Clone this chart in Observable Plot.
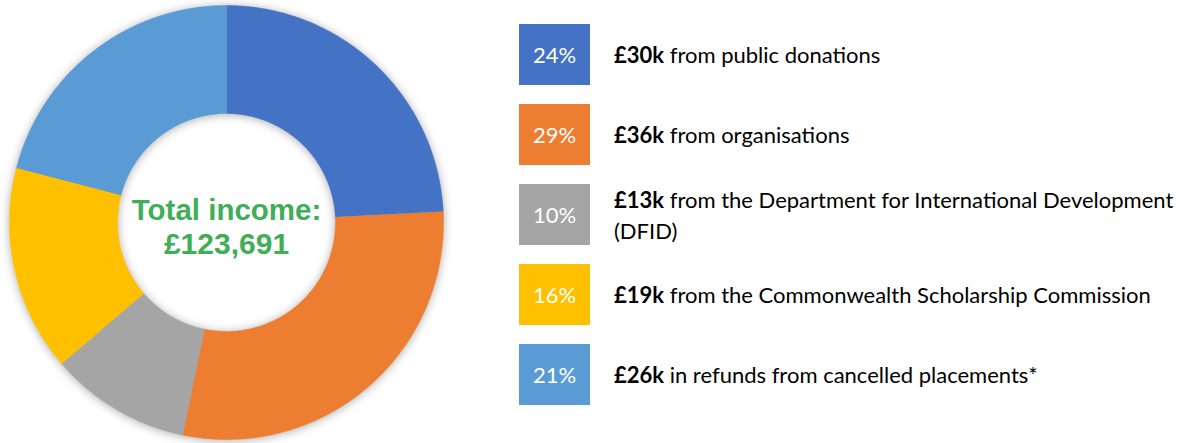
<!DOCTYPE html>
<html>
<head>
<meta charset="utf-8">
<script src="https://cdn.jsdelivr.net/npm/d3@7"></script>
<script src="https://cdn.jsdelivr.net/npm/@observablehq/plot@0.6"></script>
<style>
  html, body { margin: 0; padding: 0; background: #fff; }
  #wrap { position: relative; width: 1186px; height: 443px; overflow: hidden; }
  #chart { position: absolute; left: 0; top: 0; }
  #legend { position: absolute; left: 519px; top: 24px; }
  .row { display: flex; align-items: center; height: 61px; margin-bottom: 19px; }
  .box { width: 71px; height: 61px; flex: none; display: flex; align-items: center; justify-content: center;
         color: #fff; font-family: Lato, "Open Sans", sans-serif; font-size: 22px; }
  .lab { margin-left: 24px; font-family: Lato, "Open Sans", sans-serif; font-size: 22px;
         color: #000; white-space: nowrap; }
  .lab .ln { height: 31px; line-height: 31px; }
  .lab b { font-weight: 700; }
</style>
</head>
<body>
<div id="wrap">
  <div id="chart"></div>
  <div id="legend"></div>
</div>
<script>
// ---- data ----
const categories = ["public donations", "organisations", "DFID", "Commonwealth Scholarship Commission", "refunds"];
const amounts = [30, 36, 13, 19, 26];            // £k
const percents = [24, 29, 10, 16, 21];           // %
const amountLabels = ["£30k", "£36k", "£13k", "£19k", "£26k"];
const descriptions = [
  ["from public donations"],
  ["from organisations"],
  ["from the Department for International Development", "(DFID)"],
  ["from the Commonwealth Scholarship Commission"],
  ["in refunds from cancelled placements*"]
];
const colors = ["#4472C4", "#ED7D31", "#A5A5A5", "#FFC000", "#5B9BD5"];
const centerLines = ["Total income:", "£123,691"];

// ---- donut geometry (unit radius) ----
const outerR = 1, innerR = 0.502;
const pie = d3.pie().sort(null).value(d => d.value)(categories.map((c, i) => ({name: c, value: amounts[i]})));
const pts = [];
for (const s of pie) {
  const a0 = s.startAngle, a1 = s.endAngle;
  const n = Math.max(2, Math.ceil((a1 - a0) / (Math.PI / 360)));
  for (let k = 0; k <= n; k++) {
    const a = a0 + (a1 - a0) * k / n;
    pts.push({name: s.data.name, x: outerR * Math.sin(a), y: outerR * Math.cos(a)});
  }
  for (let k = n; k >= 0; k--) {
    const a = a0 + (a1 - a0) * k / n;
    pts.push({name: s.data.name, x: innerR * Math.sin(a), y: innerR * Math.cos(a)});
  }
}

const W = 452, H = 443, cx = 226, cy = 222, Rpx = 217;
const plot = Plot.plot({
  width: W, height: H,
  margin: 0,
  x: {domain: [-cx / Rpx, (W - cx) / Rpx], axis: null},
  y: {domain: [-(H - cy) / Rpx, cy / Rpx], axis: null},
  color: {domain: categories, range: colors},
  style: {overflow: "visible", background: "transparent"},
  marks: [
    Plot.line(pts, {x: "x", y: "y", z: "name", fill: "name", stroke: "name", strokeWidth: 0.5}),
    Plot.text([centerLines[0]], {x: () => 0, y: () => 0, text: d => d, dy: -12, fill: "#3FAE57",
      fontSize: 29.5, fontWeight: "bold", fontFamily: "Liberation Sans, Arial, sans-serif"}),
    Plot.text([centerLines[1]], {x: () => 0, y: () => 0, text: d => d, dy: 22, fill: "#3FAE57",
      fontSize: 30, fontWeight: "bold", fontFamily: "Liberation Sans, Arial, sans-serif"})
  ]
});
const lineG = plot.querySelector('g[aria-label="line"]');
if (lineG) lineG.style.filter = "drop-shadow(0px 1px 5px rgba(0,0,0,0.32))";
document.getElementById("chart").appendChild(plot);

// ---- legend ----
const legend = document.getElementById("legend");
categories.forEach((c, i) => {
  const row = document.createElement("div");
  row.className = "row";
  const box = document.createElement("div");
  box.className = "box";
  box.style.background = colors[i];
  box.textContent = percents[i] + "%";
  const lab = document.createElement("div");
  lab.className = "lab";
  descriptions[i].forEach((line, j) => {
    const ln = document.createElement("div");
    ln.className = "ln";
    if (j === 0) {
      const b = document.createElement("b");
      b.textContent = amountLabels[i];
      ln.appendChild(b);
      ln.appendChild(document.createTextNode(" " + line));
    } else {
      ln.textContent = line;
    }
    lab.appendChild(ln);
  });
  row.appendChild(box);
  row.appendChild(lab);
  legend.appendChild(row);
});
</script>
</body>
</html>
